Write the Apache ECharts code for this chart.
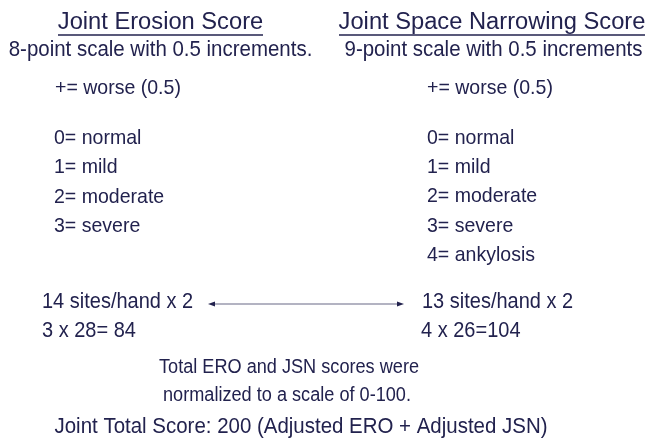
<!DOCTYPE html>
<html>
<head>
<meta charset="utf-8">
<script src="https://cdn.jsdelivr.net/npm/echarts@6/dist/echarts.min.js"></script>
<style>
  html, body { margin: 0; padding: 0; background: #fff; }
  #main { width: 647px; height: 441px; }
</style>
</head>
<body>
<div id="main"></div>
<script>
// 텍스트 데이터
const headings = ['Joint Erosion Score', 'Joint Space Narrowing Score'];
const subHeadings = ['8-point scale with 0.5 increments.', '9-point scale with 0.5 increments'];
const worseNote = '+= worse (0.5)';
const eroGrades = ['0= normal', '1= mild', '2= moderate', '3= severe'];
const jsnGrades = ['0= normal', '1= mild', '2= moderate', '3= severe', '4= ankylosis'];
const sitesLines = ['14 sites/hand x 2', '13 sites/hand x 2'];
const maxLines = ['3 x 28= 84', '4 x 26=104'];
const normNote = ['Total ERO and JSN scores were', 'normalized to a scale of 0-100.'];
const totalNote = 'Joint Total Score: 200 (Adjusted ERO + Adjusted JSN)';

const ink = '#22224e';
const font = '"Liberation Sans", Arial, sans-serif';

// 가로로 약간 좁힌 텍스트
const txt = (text, x, y, size, align, sx) => ({
  type: 'text',
  x, y,
  scaleX: sx || 0.93,
  style: {
    text,
    fill: ink,
    font: `${size}px ${font}`,
    textAlign: align || 'left',
    textVerticalAlign: 'middle'
  }
});

const els = [];

// 제목 (밑줄 포함)
const headX = [160.5, 492];
const headW = [205, 306];
headings.forEach((h, i) => {
  els.push(txt(h, headX[i], 23, 23, 'center', 1.03));
  els.push({
    type: 'line',
    shape: { x1: headX[i] - headW[i] / 2, y1: 35, x2: headX[i] + headW[i] / 2, y2: 35 },
    style: { stroke: ink, lineWidth: 1.3 }
  });
});
els.push(txt(subHeadings[0], 160.5, 50, 22, 'center'));
els.push(txt(subHeadings[1], 493.5, 50, 22, 'center'));

// 등급 목록
els.push(txt(worseNote, 55, 88, 21));
els.push(txt(worseNote, 427, 88, 21));
eroGrades.forEach((g, i) => els.push(txt(g, 54, 138 + i * 29.5, 21)));
jsnGrades.forEach((g, i) => els.push(txt(g, 427, 138 + i * 29.3, 21)));

// 부위 수
els.push(txt(sitesLines[0], 42, 302, 21.5));
els.push(txt(sitesLines[1], 422, 302, 21.5));
els.push(txt(maxLines[0], 42, 331, 21.5));
els.push(txt(maxLines[1], 421, 331, 21.5));

// 양방향 화살표
els.push({
  type: 'line',
  shape: { x1: 213, y1: 304, x2: 399, y2: 304 },
  style: { stroke: '#9a9aae', lineWidth: 1.3 }
});
els.push({
  type: 'polygon',
  shape: { points: [[208, 304], [215, 301.5], [215, 306.5]] },
  style: { fill: ink }
});
els.push({
  type: 'polygon',
  shape: { points: [[404, 304], [397, 301.5], [397, 306.5]] },
  style: { fill: ink }
});

// 정규화 설명
els.push(txt(normNote[0], 289, 368, 19.5, 'center'));
els.push(txt(normNote[1], 287, 396, 19.5, 'center'));
els.push(txt(totalNote, 301, 427, 22, 'center'));

const chart = echarts.init(document.getElementById('main'));
chart.setOption({
  backgroundColor: '#fff',
  animation: false,
  graphic: { elements: els }
});
</script>
</body>
</html>
